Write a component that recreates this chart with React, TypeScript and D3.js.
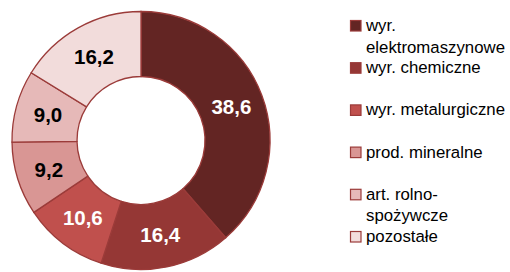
import React from "react";
import * as d3 from "d3";

const categories = ["wyr. elektromaszynowe", "wyr. chemiczne", "wyr. metalurgiczne", "prod. mineralne", "art. rolno-spożywcze", "pozostałe"];
const legendLines = [["wyr.", "elektromaszynowe"], ["wyr. chemiczne"], ["wyr. metalurgiczne"], ["prod. mineralne"], ["art. rolno-", "spożywcze"], ["pozostałe"]];
const values = [38.6, 16.4, 10.6, 9.2, 9.0, 16.2];
const colors = ["#632523", "#953735", "#C0504D", "#D99694", "#E6B9B8", "#F2DCDB"];
const labelColors = ["#ffffff", "#ffffff", "#ffffff", "#000000", "#000000", "#000000"];

const W = 510, H = 272;
const cx = 141, cy = 140.5, outerR = 129, innerR = 64;
const stroke = "#9B3B39";
const fmt = (v: number) => v.toFixed(1).replace(".", ",");

export default function App() {
  const pie = d3.pie<number>().sort(null).value((d) => d)(values);
  const arc = d3.arc<d3.PieArcDatum<number>>().innerRadius(innerR).outerRadius(outerR);
  const legendX = 350;
  const baseY = 31;
  const step = 42.2;
  return (
    <svg width={W} height={H} style={{ position: "absolute", left: 0, top: 0, background: "#fff" }}>
      <g transform={`translate(${cx},${cy})`}>
        {pie.map((p, i) => (
          <path key={i} d={arc(p) || ""} fill={colors[i]} stroke={stroke} strokeWidth={1.3} />
        ))}
        {pie.map((p, i) => {
          const [x, y] = arc.centroid(p);
          return (
            <text key={i} x={x} y={y} dy="0.36em" textAnchor="middle" fill={labelColors[i]}
              fontFamily="'Liberation Sans', Arial, sans-serif" fontWeight="bold" fontSize={20.5}>
              {fmt(values[i])}
            </text>
          );
        })}
      </g>
      <g>
        {categories.map((c, i) => {
          const by = baseY + i * step;
          return (
            <g key={c}>
              <rect x={legendX + 0.5} y={by - 10.5} width={10.5} height={10.5} fill={colors[i]} stroke={stroke} strokeWidth={1.2} />
              <text x={366} y={by} fontFamily="'Liberation Sans', Arial, sans-serif" fontSize={16.8} fill="#000">
                {legendLines[i].map((l, j) => (
                  <tspan key={j} x={366} dy={j === 0 ? 0 : 21.5}>{l}</tspan>
                ))}
              </text>
            </g>
          );
        })}
      </g>
    </svg>
  );
}
